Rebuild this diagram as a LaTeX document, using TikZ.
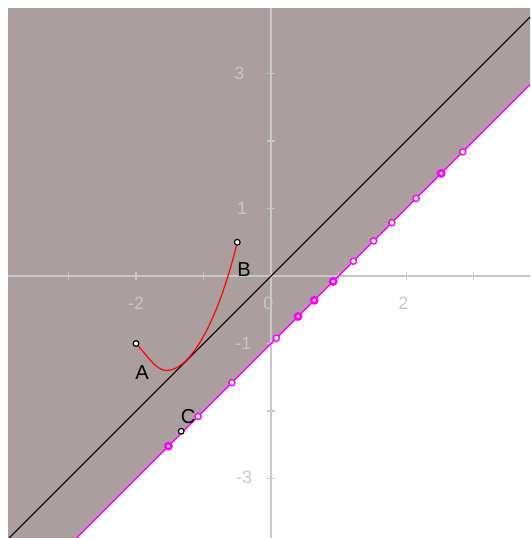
\documentclass[tikz,border=0pt]{standalone}
\usepackage{fontspec}
\setmainfont{Liberation Sans}
\definecolor{regiongray}{RGB}{170,158,158}
\definecolor{axisgray}{RGB}{200,200,200}
\definecolor{locuspink}{RGB}{255,0,255}

\begin{document}
\begin{tikzpicture}[
    pt/.style={circle,draw=black,fill=white,inner sep=0pt,minimum size=2.4pt,line width=0.5pt},
    locpt/.style={circle,draw=locuspink,fill=white,inner sep=0pt,minimum size=2.6pt,line width=0.6pt},
    locptb/.style={circle,draw=locuspink,fill=white,inner sep=0pt,minimum size=2.6pt,line width=1.1pt},
    axis/.style={axisgray,line width=0.45pt},
    ticklab/.style={text=axisgray,font=\fontsize{7.5}{9}\selectfont},
    ptlab/.style={font=\fontsize{8.5}{10}\selectfont}
]
    \useasboundingbox (-4.015,-3.881) rectangle (3.837,4.089);

    % half plane above y = x - 1
    \fill[regiongray] (-3.896,3.970) -- (3.837,3.970) -- (3.837,2.837)
        -- (-2.881,-3.881) -- (-3.896,-3.881) -- cycle;

    % axes
    \draw[axis] (-3.896,0) -- (3.837,0);
    \draw[axis] (0,-3.881) -- (0,3.970);
    \foreach \t in {-3,-2,-1,1,2,3} {
        \draw[axis] (\t,-0.06) -- (\t,0.06);
        \draw[axis] (-0.06,\t) -- (0.06,\t);
    }
    \node[ticklab] at (-2,-0.41) {-2};
    \node[ticklab] at (-0.04,-0.40) {0};
    \node[ticklab] at (1.96,-0.40) {2};
    \node[ticklab] at (-0.47,3.0) {3};
    \node[ticklab] at (-0.43,1.0) {1};
    \node[ticklab] at (-0.41,-1.0) {-1};
    \node[ticklab] at (-0.40,-2.98) {-3};

    % lines y = x and y = x - 1
    \draw[black,line width=0.45pt] (-3.881,-3.881) -- (3.837,3.837);
    \draw[locuspink,line width=0.6pt] (-2.881,-3.881) -- (3.837,2.837);

    % sampled points on the boundary
    \foreach \x/\s [count=\i] in {-1.52/locptb,-1.08/locpt,-0.58/locpt,0.08/locpt,
        0.40/locptb,0.64/locptb,0.92/locptb,1.22/locpt,1.52/locpt,1.79/locpt,
        2.15/locpt,2.52/locptb,2.84/locpt}
        \node[\s] (p\i) at (\x,{\x-1}) {};

    % points A, B, C
    \node[pt] (A) at (-2,-1) {};
    \node[pt] (B) at (-0.5,0.5) {};
    \node[pt] (C) at (-1.33,-2.30) {};
    \coordinate (M) at (-1.55,-1.40);

    % red curve from A to B
    \draw[red,line width=0.5pt] (A) .. controls (-1.85,-1.165) and (-1.70,-1.40) .. (M)
        .. controls (-1.2,-1.40) and (-0.8,-0.7) .. (B);

    \node[ptlab] (labA) at (-1.91,-1.43) {A};
    \node[ptlab] (labB) at (-0.40,0.09) {B};
    \node[ptlab] (labC) at (-1.226,-2.084) {C};
\end{tikzpicture}
\end{document}
